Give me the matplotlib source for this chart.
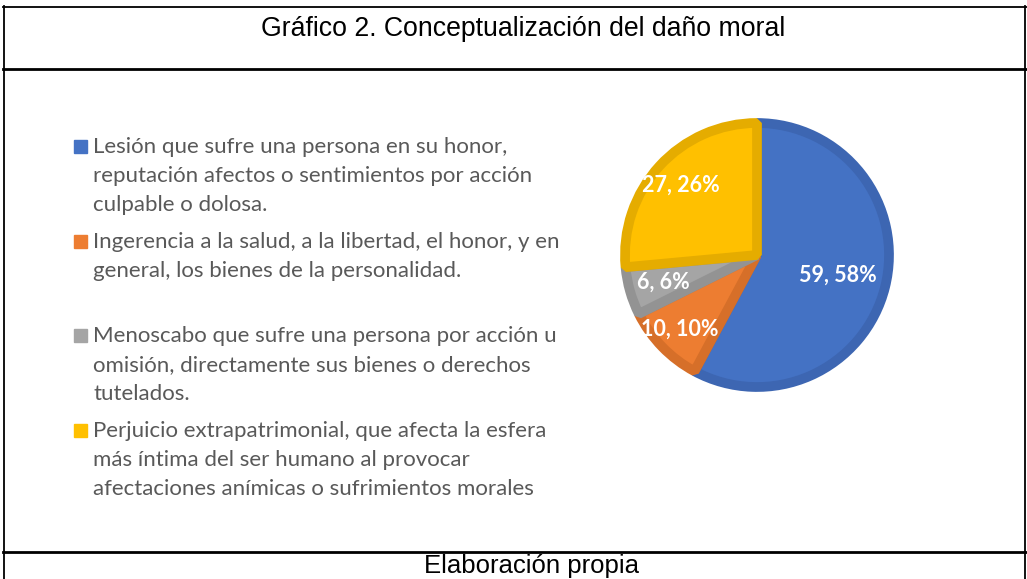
import matplotlib.pyplot as plt
from matplotlib.lines import Line2D
import numpy as np

# Data
categories = [
    ["Lesión que sufre una persona en su honor,",
     "reputación afectos o sentimientos por acción",
     "culpable o dolosa."],
    ["Ingerencia a la salud, a la libertad, el honor, y en",
     "general, los bienes de la personalidad."],
    ["Menoscabo que sufre una persona por acción u",
     "omisión, directamente sus bienes o derechos",
     "tutelados."],
    ["Perjuicio extrapatrimonial, que afecta la esfera",
     "más íntima del ser humano al provocar",
     "afectaciones anímicas o sufrimientos morales"],
]
values = [59, 10, 6, 27]
percents = [58, 10, 6, 26]
colors = ["#4472C4", "#ED7D31", "#A5A5A5", "#FFC000"]
edge_colors = ["#3D66B2", "#D66F29", "#939393", "#E5AC00"]
label_radius = [0.63, 0.81, 0.74, 0.78]

W, H = 1027, 579
fig = plt.figure(figsize=(W / 100, H / 100), dpi=100)
fig.patch.set_facecolor("white")


def fx(x):
    return x / W


def fy(y):
    return 1 - y / H


# table borders
def hline(y, lw):
    fig.add_artist(Line2D([fx(3), fx(1027)], [fy(y), fy(y)], color="black", lw=lw))


def vline(x, lw=1.3):
    fig.add_artist(Line2D([fx(x), fx(x)], [fy(6), fy(579)], color="black", lw=lw))


hline(7, 1.3)
hline(69, 2.0)
hline(552, 2.0)
vline(3.5)
vline(1024.5)

fig.text(fx(523), fy(36), "Gráfico 2. Conceptualización del daño moral",
         ha="center", va="baseline", fontsize=19.2, family="Liberation Sans", color="black")
fig.text(fx(531), fy(573), "Elaboración propia",
         ha="center", va="baseline", fontsize=18.5, family="Liberation Sans", color="black")

# pie
cx, cy, r = 757, 255, 132
ax = fig.add_axes([fx(cx - r), fy(cy + r), 2 * r / W, 2 * r / H])
wedges, _ = ax.pie(values, colors=colors, startangle=90, counterclock=False,
                   wedgeprops=dict(linewidth=7, joinstyle="bevel"))
for w, ec in zip(wedges, edge_colors):
    w.set_edgecolor(ec)
    w.set_clip_on(False)
ax.set_xlim(-1, 1)
ax.set_ylim(-1, 1)
ax.set_aspect("equal")

for w, v, p, d in zip(wedges, values, percents, label_radius):
    ang = np.deg2rad((w.theta1 + w.theta2) / 2)
    ax.text(d * np.cos(ang), d * np.sin(ang), f"{v}, {p}%", ha="center", va="center",
            color="white", fontsize=15.5, fontweight="bold", family="Lato")

# legend
first_baselines = [153, 248, 342, 437]
for lines, col, y0 in zip(categories, colors, first_baselines):
    fig.patches.append(plt.Rectangle((fx(74), fy(y0)), 13 / W, 13 / H,
                                     transform=fig.transFigure, color=col))
    for i, line in enumerate(lines):
        fig.text(fx(93), fy(y0 + 29 * i), line, ha="left", va="baseline", fontsize=16,
                 family="Lato", color="#595959")

fig.savefig("out.png", dpi=100)
